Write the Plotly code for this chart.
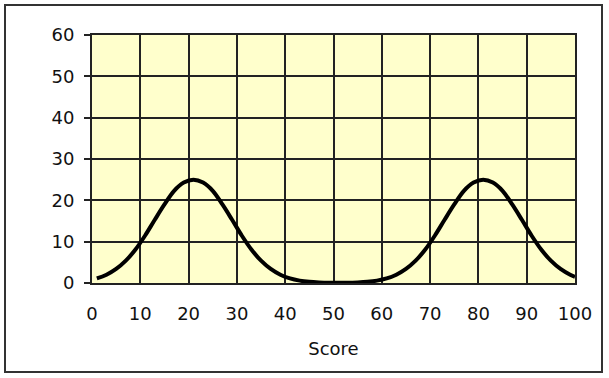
import plotly.graph_objects as go

score = [1, 3, 5, 7, 9, 11, 13, 15, 17, 19, 21, 23, 25, 27, 29, 31, 33, 35, 37, 39,
         41, 43, 45, 47, 49, 51, 53, 55, 57, 59, 61, 63, 65, 67, 69, 71, 73, 75, 77, 79,
         81, 83, 85, 87, 89, 91, 93, 95, 97, 99, 100]
freq = [1.1, 2.0, 3.4, 5.4, 8.1, 11.5, 15.3, 19.0, 22.3, 24.3, 25.0, 24.3, 22.3, 19.0, 15.3, 11.5, 8.1, 5.4, 3.4, 2.0,
        1.1, 0.57, 0.28, 0.13, 0.05, 0.05, 0.05, 0.13, 0.28, 0.57, 1.1, 2.0, 3.4, 5.4, 8.1, 11.5, 15.3, 19.0, 22.3, 24.3,
        25.0, 24.3, 22.3, 19.0, 15.3, 11.5, 8.1, 5.4, 3.4, 2.0, 1.5]

x_ticks = [0, 10, 20, 30, 40, 50, 60, 70, 80, 90, 100]
y_ticks = [0, 10, 20, 30, 40, 50, 60]

W, H = 609, 378
L, R, T, B = 92, 34, 35, 95

fig = go.Figure()
fig.add_trace(go.Scatter(x=score, y=freq, mode="lines",
                         line=dict(color="black", width=4, shape="spline"),
                         showlegend=False, hoverinfo="skip"))

font = dict(family="DejaVu Sans, Verdana, sans-serif", size=18, color="#111")

fig.update_layout(
    width=W, height=H,
    margin=dict(l=L, r=R, t=T, b=B),
    paper_bgcolor="white",
    plot_bgcolor="#FFFFCC",
    font=font,
    xaxis=dict(range=[0, 100], tickvals=x_ticks, showgrid=True, gridcolor="#222", gridwidth=1.5,
               showline=True, linecolor="#222", linewidth=2, mirror=True,
               ticks="outside", ticklen=13, tickcolor="rgba(0,0,0,0)", zeroline=False,
               title=dict(text="Score", font=font, standoff=20), fixedrange=True),
    yaxis=dict(range=[0, 60], tickvals=y_ticks, showgrid=True, gridcolor="#222", gridwidth=1.5,
               showline=True, linecolor="#222", linewidth=2, mirror=True,
               ticks="outside", ticklen=6, tickcolor="#222", tickwidth=1.5, zeroline=False,
               ticklabelstandoff=6, fixedrange=True),
)

pw, ph = W - L - R, H - T - B
fig.add_shape(type="rect", xref="paper", yref="paper",
              x0=(5 - L) / pw, x1=(602 - L) / pw,
              y0=(H - B - 372) / ph, y1=(H - B - 5) / ph,
              line=dict(color="#333", width=2), fillcolor="rgba(0,0,0,0)", layer="below")

fig.write_html("out.html")
